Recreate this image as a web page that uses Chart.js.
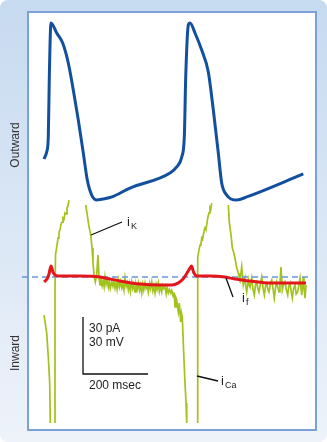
<!DOCTYPE html>
<html>
<head>
<meta charset="utf-8">
<script src="https://cdn.jsdelivr.net/npm/chart.js@4"></script>
<style>
  html, body { margin: 0; padding: 0; background: #ffffff; }
  canvas { display: block; }
</style>
</head>
<body>
<canvas id="myChart" width="327" height="442"></canvas>
<script>
// action potential (ms, mV)
const apTime = [3.1, 11.4, 16.3, 19.4, 24.6, 42.2, 60.6, 77.8, 93.2, 108.6, 124.0, 136.3, 149.8, 165.2, 184.6, 212.3, 267.7,
  390.8, 411.4, 426.8, 434.8, 439.1, 447.1, 452.3, 467.7, 488.3, 508.6, 524.0, 539.4, 549.8, 565.2, 596.0, 626.8, 800.9];
const apVoltage = [-43.4, -39.7, -31.8, -0.3, 28.2, 22.9, 17.6, 7.1, -7.1, -22.9, -40.3, -54.5, -62.4, -65, -64.5, -63.4, -58.7,
  -50.8, -47.6, -42.4, -31.8, -0.3, 27.1, 28.2, 22.9, 13.9, 2.4, -17.6, -40.3, -56.1, -62.4, -65, -63.4, -51.3];

// membrane current iCa / iK trace (ms, pA), null = trace leaves the panel
const currentTime = [
  3.1, 11.4, 16.3, 20.6, 22.5, 30,
  36.9, 36.9, 38.5, 43.1, 46.2, 49.2, 52.3, 55.4, 58.5, 61.5, 64.6, 67.7, 70.8, 73.8, 76.9, 80.0, 100,
  131.4, 136.3, 140.6, 146.8, 150.8, 153.8, 156.9, 160.9, 165.2, 169.2, 172.3, 175.4, 177.5, 179.4, 182, 185, 188, 190.8, 194, 197,
  200.9, 204, 207, 211.4, 215, 218, 221.5, 225, 228, 231.7, 235, 238, 242.2, 245, 249, 252.3, 256, 259, 262.5, 266, 269,
  272.9, 276, 279, 283.1, 286, 290, 293.2, 297, 300, 303.7, 307, 310, 313.8, 317, 321, 324, 328, 331, 334.5, 338, 341,
  344.6, 348, 351, 354.8, 358, 361, 365.2, 368, 372, 375.4, 379, 382, 385.5, 389, 392.9, 396, 400.9, 403, 406.2, 409, 411.4,
  414, 416.3, 419.4, 423.7, 426, 428.6, 431.7, 436.0, 440.0, 442.2, 460,
  476.0, 476.0, 479, 483.1, 486, 488.3, 491, 493.2, 496, 498.5, 501, 503.7, 506.8, 510.8, 513.8, 516, 519.1, 540,
  570.2, 573.2, 578.5, 582.5, 585, 588.6, 592.9, 596.0, 600.9, 603, 606.2, 611.4, 616.3, 621.5, 624, 626.8, 631.7, 634,
  636.9, 642.2, 646, 650.1, 654, 657.5, 661, 664.6, 669, 672.9, 677, 680.9, 685, 688.3, 692, 695.4, 700, 703.7, 708,
  711.7, 716, 719.1, 723, 726.2, 729, 732.3, 736.3, 740, 744.6, 749, 752.9, 756, 760.0, 764, 767.1, 771, 775.4, 779,
  783.7, 787, 790.8, 796.0, 800.9, 803, 806.2, 809.2];
const currentValues = [
  -20.0, -29.5, -42.1, -55.8, -76.8, null,
  -76.8, -6.8, 11.6, 16.8, 20.5, 23.7, 24.7, 27.9, 28.9, 31.1, 30.5, 33.7, 33.2, 36.3, 37.4, 40.5, null,
  37.9, 32.6, 27.4, 22.1, 15.3, 7.9, 1.1, -2.6, 1.1, 11.6, -0.5, -4.2, -1.0, -1.6, -4.5, -2.0, -5.0, 0, -3.8, -1.5,
  -5.3, -2.2, -6.0, -2.6, -4.8, -1.8, -5.8, -3.0, -6.5, -1.6, -5.2, -2.5, -5.8, -3.5, -7.0, -0.5, -4.8, -3.0, -6.8, -3.5, -7.5,
  -2.6, -6.0, -4.0, -7.9, -3.8, -6.5, -3.2, -7.0, -4.5, -8.4, -4.0, -6.8, -3.2, -6.0, -4.5, -7.9, -3.5, -6.0, -2.6, -7.2, -4.8,
  -8.4, -4.0, -6.5, -3.2, -7.5, -5.0, -7.9, -4.5, -6.2, -5.3, -8.8, -5.5, -8.4, -6.5, -8.4, -7.0, -10.5, -8.0, -15.8, -11.0, -12.1,
  -16.0, -18.4, -13.7, -23.7, -19.0, -21.1, -34.7, -52.6, -66.3, -76.8, null,
  -76.8, 10.0, 13.5, 16.8, 17.5, 20.5, 19.8, 22.1, 24.5, 25.8, 25.0, 27.4, 31.1, 33.7, 36.3, 35.5, 38.9, null,
  37.9, 28.9, 22.1, 15.3, 14.0, 11.6, 7.9, 4.7, 2.1, 0.5, -1.6, 5.3, -4.2, -0.5, -5.0, -7.9, -1.6, -4.0,
  -5.3, -0.5, -6.5, -9.5, -4.0, -2.6, -6.0, -7.9, -3.5, 0, -6.0, -9.5, -4.5, -3.2, -6.5, -7.9, -3.0, -1.6, -6.5,
  -11.1, -5.0, -2.6, -6.0, -7.9, -3.5, 5.3, -6.8, -4.0, -2.6, -7.0, -9.5, -5.0, -3.2, -8.0, -11.1, -6.0, -4.2, -9.0,
  -7.9, -4.5, -0.5, -9.5, 0, -6.0, -11.1, -4.2];

// pacemaker current if (ms, pA)
const ifTime = [3.1, 12.3, 18.5, 24.6, 30.8, 36.9, 52.3, 113.8, 175.4, 206.2, 236.9, 298.5, 360.0, 396.9, 415.4, 430.8, 443.1,
  452.3, 456.9, 463.1, 473.8, 513.8, 560.0, 590.8, 636.9, 698.5, 760.0, 809.2];
const ifValues = [-2.6, -1.1, 1.6, 5.8, 2.6, 1.1, 0.5, 0.5, 0, -1.1, -2.1, -3.7, -4.2, -4.2, -3.2, -1.1, 2.1,
  4.7, 5.8, 2.6, 0.5, 0.5, 0, -1.1, -2.1, -3.2, -3.2, -3.2];

// zero current reference
const zeroTime = [-64.6, 815.4];
const zeroValues = [0, 0];

// scale bar: 30 pA / 30 mV and 200 msec
const barStart = 123.1;
const barLength = 200;
const barTop = -21.05;
const barHeight = 30;

function points(xs, ys) {
  return xs.map((x, i) => ({ x: x, y: ys[i] }));
}

const decor = {
  id: 'decor',
  beforeDraw(chart) {
    const c = chart.ctx;
    c.save();
    const g = c.createLinearGradient(0, 0, 0, 442);
    g.addColorStop(0, '#c6daf0');
    g.addColorStop(1, '#eef3fa');
    c.fillStyle = g;
    c.beginPath();
    c.roundRect(0, 0, 327, 442, 8);
    c.fill();
    c.fillStyle = '#ffffff';
    c.fillRect(28, 12, 288, 418);
    c.strokeStyle = '#7aa2d8';
    c.lineWidth = 2;
    c.strokeRect(28, 12, 288, 418);

    c.fillStyle = '#333333';
    c.font = '12px "Liberation Sans", Arial, sans-serif';
    c.textAlign = 'center';
    c.textBaseline = 'middle';
    c.translate(16, 145);
    c.rotate(-Math.PI / 2);
    c.fillText('Outward', 0, 0);
    c.rotate(Math.PI / 2);
    c.translate(0, 208);
    c.rotate(-Math.PI / 2);
    c.fillText('Inward', 0, 0);
    c.restore();
  },
  afterDatasetsDraw(chart) {
    const c = chart.ctx;
    const x = chart.scales.x;
    const yI = chart.scales.yI;
    c.save();
    c.strokeStyle = '#111111';
    c.lineWidth = 1.3;
    // leader lines
    c.beginPath();
    c.moveTo(91, 235); c.lineTo(122, 222);
    c.moveTo(226, 278); c.lineTo(233, 297);
    c.moveTo(197, 376); c.lineTo(218, 381);
    c.stroke();

    // scale bar
    const x0 = x.getPixelForValue(barStart);
    const x1 = x.getPixelForValue(barStart + barLength);
    const y0 = yI.getPixelForValue(barTop);
    const y1 = yI.getPixelForValue(barTop - barHeight);
    c.beginPath();
    c.moveTo(x0, y0); c.lineTo(x0, y1); c.lineTo(x1, y1);
    c.stroke();

    c.fillStyle = '#222222';
    c.textAlign = 'left';
    c.textBaseline = 'alphabetic';
    c.font = '12px "Liberation Sans", Arial, sans-serif';
    c.fillText('30 pA', x0 + 6, y0 + 15);
    c.fillText('30 mV', x0 + 6, y0 + 29);
    c.fillText('200 msec', x0 + 6, y1 + 15);

    function label(sub, lx, ly) {
      c.font = '13px "Liberation Sans", Arial, sans-serif';
      c.fillText('i', lx, ly);
      c.font = '9px "Liberation Sans", Arial, sans-serif';
      c.fillText(sub, lx + 4, ly + 3);
    }
    label('K', 127, 226);
    label('f', 242, 302);
    label('Ca', 221, 385);
    c.restore();
  }
};

const ctx = document.getElementById('myChart').getContext('2d');
const chart = new Chart(ctx, {
  type: 'line',
  data: {
    datasets: [
      {
        label: 'Membrane potential',
        data: points(apTime, apVoltage),
        yAxisID: 'yV',
        borderColor: '#124f9e',
        borderWidth: 3,
        cubicInterpolationMode: 'monotone',
        order: 0
      },
      {
        label: 'if',
        data: points(ifTime, ifValues),
        yAxisID: 'yI',
        borderColor: '#e3161c',
        borderWidth: 3,
        cubicInterpolationMode: 'monotone',
        order: 1
      },
      {
        label: 'Zero',
        data: points(zeroTime, zeroValues),
        yAxisID: 'yI',
        borderColor: '#6696dc',
        borderWidth: 1.5,
        borderDash: [6, 4],
        order: 2
      },
      {
        label: 'iCa / iK',
        data: points(currentTime, currentValues),
        yAxisID: 'yI',
        borderColor: '#a2c21c',
        borderWidth: 1.7,
        tension: 0,
        spanGaps: false,
        order: 3
      }
    ]
  },
  options: {
    responsive: false,
    animation: false,
    layout: { padding: 0 },
    elements: { point: { radius: 0 } },
    plugins: { legend: { display: false }, tooltip: { enabled: false } },
    scales: {
      x: { type: 'linear', display: false, min: -132.3, max: 873.8 },
      yV: { type: 'linear', display: false, min: -192.37, max: 40.26 },
      yI: { type: 'linear', display: false, min: -86.84, max: 145.79 }
    }
  },
  plugins: [decor]
});
</script>
</body>
</html>
